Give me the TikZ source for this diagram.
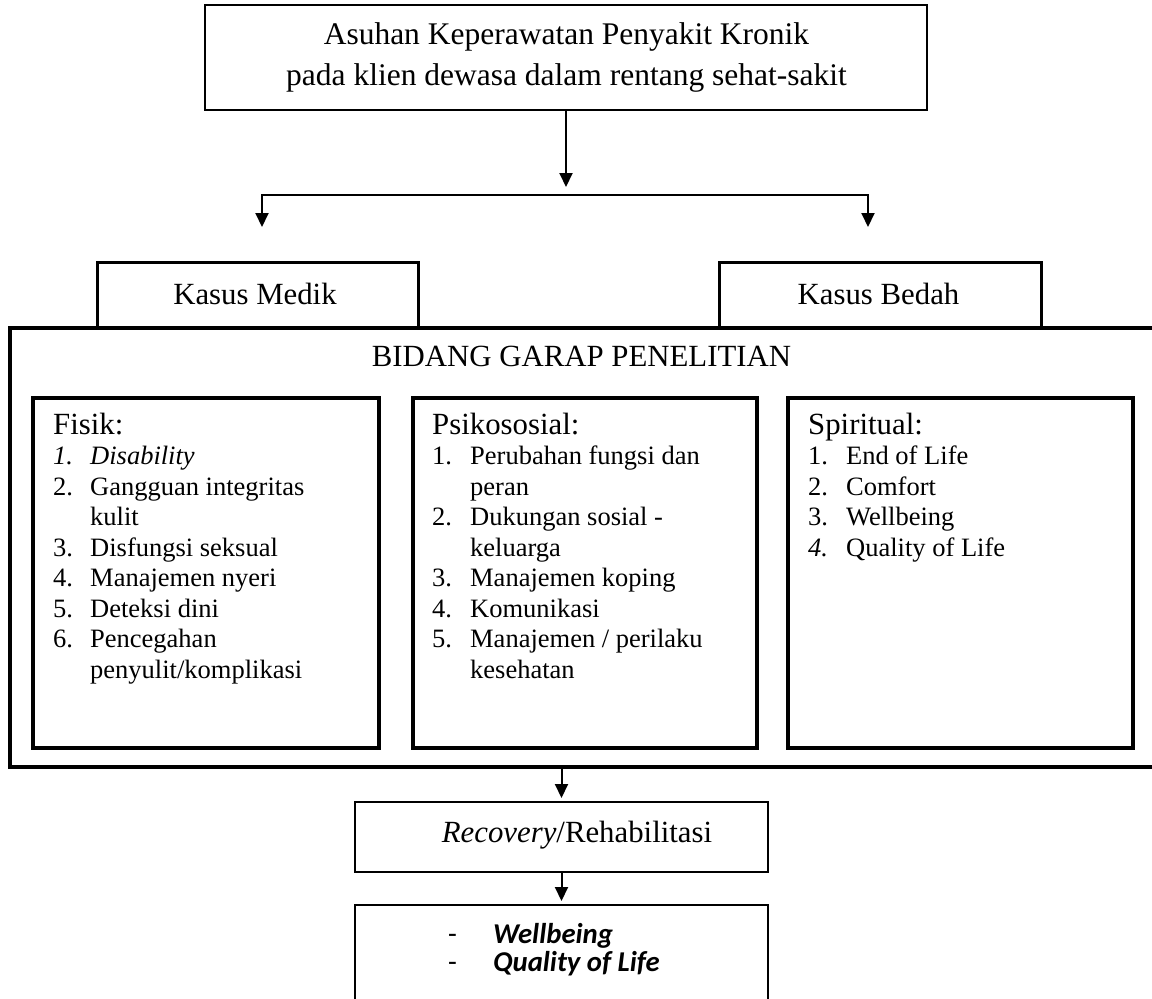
\documentclass[tikz,border=0pt]{standalone}
\usepackage{fontspec}
\setmainfont{Liberation Serif}
\newfontfamily\calibri{Carlito}
\usetikzlibrary{arrows.meta,calc}
\begin{document}
\begin{tikzpicture}[x=1pt,y=-1pt,
  box/.style={draw, rectangle, inner sep=0pt, outer sep=0pt},
  thinbox/.style={box, line width=2pt},
  thickbox/.style={box, line width=3.6pt},
  arr/.style={line width=2pt, -{Triangle[width=13pt,length=14pt]}},
  bigtext/.style={font=\fontsize{30.8}{41}\selectfont},
  lst/.style={font=\fontsize{26.5}{30.5}\selectfont, inner sep=0pt, anchor=base west},
]
\useasboundingbox (0,0) rectangle (1152,999);
\clip (0,0) rectangle (1152,999);

% top box
\node[box, line width=1.8pt, minimum width=722pt, minimum height=105pt] (top) at (566,57.5) {};
\node[font=\fontsize{31.5}{41}\selectfont, anchor=base, inner sep=0pt] (toptext) at (566.5,44)
  {\begin{tabular}[t]{@{}c@{}}Asuhan Keperawatan Penyakit Kronik\\pada klien dewasa dalam rentang sehat-sakit\end{tabular}};

% branch
\coordinate (split) at (566,187);
\coordinate (mid) at (566,195);
\coordinate (blt) at (262,227);
\coordinate (brt) at (868,227);
\draw[arr] (top.south) -- (split);
\draw[arr] (mid) -| (blt);
\draw[arr] (mid) -| (brt);

% big box
\node[box, line width=3.2pt, minimum width=1152pt, minimum height=439pt] (bidang) at (586,547.5) {};
\node[bigtext, anchor=base, inner sep=0pt] (bidangtext) at (581.5,366) {BIDANG GARAP PENELITIAN};

% case boxes
\node[box, line width=3pt, minimum width=321pt, minimum height=66pt] (medik) at (257.5,295) {};
\node[bigtext, anchor=base, inner sep=0pt] (mediktext) at (255,304) {Kasus Medik};
\node[box, line width=3pt, minimum width=322pt, minimum height=66pt] (bedah) at (880,295) {};
\node[bigtext, anchor=base, inner sep=0pt] (bedahtext) at (878.5,304) {Kasus Bedah};

% inner boxes
\node[thickbox, minimum width=346pt, minimum height=350pt] (fisik) at (206,573) {};
\node[thickbox, minimum width=344pt, minimum height=350pt] (psiko) at (585,573) {};
\node[thickbox, minimum width=345pt, minimum height=350pt] (spirit) at (960.5,573) {};

\node[lst] (fisiklist) at (53,434) {\begin{tabular}[t]{@{}p{37pt}@{}l@{}}
\multicolumn{2}{@{}l@{}}{\fontsize{30.8}{34}\selectfont Fisik:}\\
\textit{1.}&\textit{Disability}\\
2.&Gangguan integritas\\
&kulit\\
3.&Disfungsi seksual\\
4.&Manajemen nyeri\\
5.&Deteksi dini\\
6.&Pencegahan\\
&penyulit/komplikasi
\end{tabular}};

\node[lst] (psikolist) at (432,434) {\begin{tabular}[t]{@{}p{38pt}@{}l@{}}
\multicolumn{2}{@{}l@{}}{\fontsize{30.8}{34}\selectfont Psikososial:}\\
1.&Perubahan fungsi dan\\
&peran\\
2.&Dukungan sosial -\\
&keluarga\\
3.&Manajemen koping\\
4.&Komunikasi\\
5.&Manajemen / perilaku\\
&kesehatan
\end{tabular}};

\node[lst] (spiritlist) at (808,434) {\begin{tabular}[t]{@{}p{38pt}@{}l@{}}
\multicolumn{2}{@{}l@{}}{\fontsize{30.8}{34}\selectfont Spiritual:}\\
1.&End of Life\\
2.&Comfort\\
3.&Wellbeing\\
\textit{4.}&Quality of Life
\end{tabular}};

% recovery
\node[thinbox, minimum width=413pt, minimum height=70pt] (rec) at (561.5,837) {};
\node[bigtext, anchor=base, inner sep=0pt] (rectext) at (577,842) {\textit{Recovery}/Rehabilitasi};
\draw[arr, shorten >=4pt] (rec.north |- bidang.south) -- (rec.north);

% outcome
\node[thinbox, minimum width=413pt, minimum height=110pt] (outcome) at (561.5,960) {};
\draw[arr, shorten >=4pt] (rec.south) -- (outcome.north);
\node[anchor=base west, inner sep=0pt, font=\calibri\fontsize{28.7}{28}\selectfont] (outtext) at (448,943)
  {\begin{tabular}[t]{@{}p{45pt}@{}l@{}}-&\textbf{\textit{Wellbeing}}\\-&\textbf{\textit{Quality of Life}}\end{tabular}};
\end{tikzpicture}
\end{document}
